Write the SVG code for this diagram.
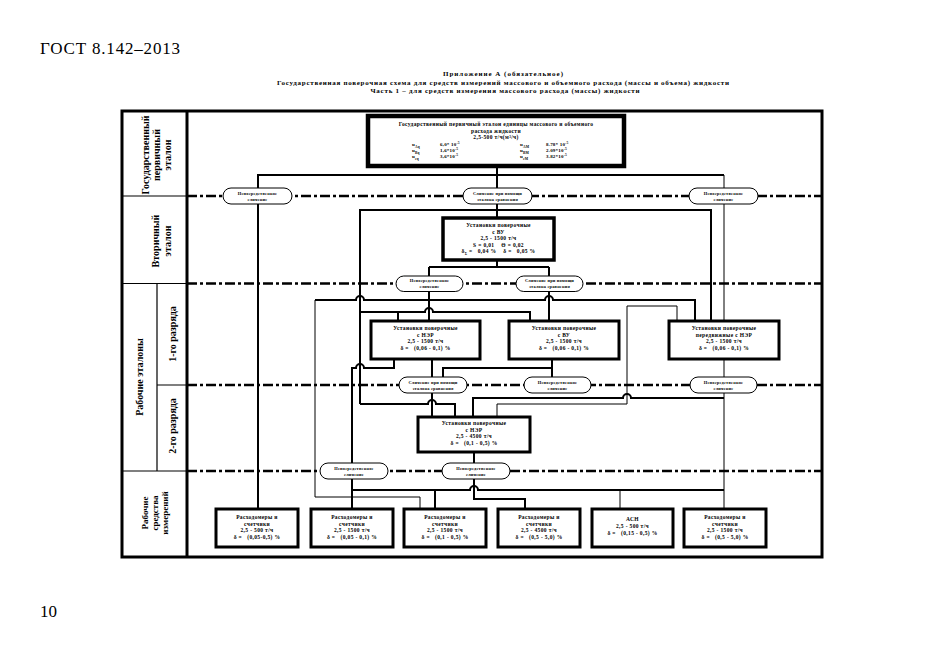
<svg xmlns="http://www.w3.org/2000/svg" width="935" height="661" viewBox="0 0 935 661">
<style>
text{font-family:"Liberation Serif","DejaVu Serif",serif;font-weight:bold;fill:#000}
.pg{font-weight:normal;font-size:17px}
.h{font-size:7px;text-anchor:middle}
.t{font-size:5.5px;text-anchor:middle;letter-spacing:0.35px}
.ts{font-size:5px;letter-spacing:0.2px}
.o{font-size:4.4px;text-anchor:middle;letter-spacing:0.2px}
.lab{font-size:10px;text-anchor:middle;dominant-baseline:central}
.frame{fill:none;stroke:#000;stroke-width:3}
.sep{fill:none;stroke:#000;stroke-width:1.2}
.dash{fill:none;stroke:#000;stroke-width:2.5;stroke-dasharray:10 3 3 3}
.c{fill:none;stroke:#000;stroke-width:2}
.ct{fill:none;stroke:#000;stroke-width:1}
.box{fill:#fff;stroke:#000;stroke-width:3}
.box4{fill:#fff;stroke:#000;stroke-width:4.5}
.ov{fill:#fff;stroke:#000;stroke-width:1}
</style>
<rect width="935" height="661" fill="#fff"/>

<text class="pg" x="40" y="54" textLength="140" lengthAdjust="spacing">ГОСТ 8.142–2013</text>
<text class="pg" x="40" y="617">10</text>

<g id="header">
<text class="h" x="503" y="76" textLength="120" lengthAdjust="spacing">Приложение А (обязательное)</text>
<text class="h" x="503" y="85" textLength="452" lengthAdjust="spacing">Государственная поверочная схема для средств измерений массового и объемного расхода (массы и объема) жидкости</text>
<text class="h" x="505" y="93" textLength="269" lengthAdjust="spacing">Часть 1 – для средств измерения массового расхода (массы) жидкости</text>
</g>

<g id="frame">
<rect class="frame" x="122" y="111" width="700" height="446"/>
<line class="frame" x1="187" y1="111" x2="187" y2="557"/>
<path class="sep" d="M122 196H187M122 283.5H187M122 471H187M157 283.5V471M157 385H187"/>
<path class="dash" d="M187 196H822M187 283.5H822M187 385H822M187 471H822"/>
</g>

<g id="labels">
<g transform="translate(156 155) rotate(-90)">
<text class="lab" x="0" y="-11">Государственный</text>
<text class="lab" x="0" y="0">первичный</text>
<text class="lab" x="0" y="11">эталон</text>
</g>
<g transform="translate(161 241) rotate(-90)">
<text class="lab" x="0" y="-6">Вторичный</text>
<text class="lab" x="0" y="6">эталон</text>
</g>
<g transform="translate(139 377) rotate(-90)">
<text class="lab" x="0" y="0">Рабочие эталоны</text>
</g>
<g transform="translate(172 334) rotate(-90)">
<text class="lab" x="0" y="0">1-го разряда</text>
</g>
<g transform="translate(172 426) rotate(-90)">
<text class="lab" x="0" y="0">2-го разряда</text>
</g>
<g transform="translate(155 513) rotate(-90)">
<text class="lab" x="0" y="-10" style="font-size:9px">Рабочие</text>
<text class="lab" x="0" y="0" style="font-size:9px">средства</text>
<text class="lab" x="0" y="10" style="font-size:9px">измерений</text>
</g>
</g>

<g id="connectors">
<path class="c" d="M258 509V175H724"/>
<path class="ct" d="M724 175V321M724 359V509"/>
<path class="c" d="M497 166V218"/>
<path class="c" d="M360 404V210H711V321"/>
<path class="c" d="M497 260V267M429 267H549M429 267V321M549 267V321"/>
<path class="c" d="M695 321V300H553a4 4 0 0 0 -8 0H364a4 4 0 0 0 -8 0H315"/>
<path class="ct" d="M315 300V497H420V509"/>
<path class="c" d="M360 312H425a4 4 0 0 1 8 0H530V321M398 312V321"/>
<path class="ct" d="M677 321V306H627V404H497V417"/>
<path class="c" d="M724 398H631a4 4 0 0 0 -8 0H473V417"/>
<path class="c" d="M552 359V378M552 368H443V378"/>
<path class="c" d="M432 359V417"/>
<path class="c" d="M394 359V368H364a4 4 0 0 0 -8 0H352V509"/>
<path class="c" d="M360 404H428a4 4 0 0 1 8 0H455V417"/>
<path class="c" d="M352 490H470a4 4 0 0 1 8 0H724M435 490V509"/>
<path class="ct" d="M620 490V509"/>
<path class="c" d="M474 452V499H525V509"/>
</g>

<g id="n-primary">
<rect class="box4" x="368" y="116" width="256" height="50"/>
<text class="t" x="496" y="126">Государственный первичный эталон единицы массового и объемного</text>
<text class="t" x="496" y="132.5">расхода жидкости</text>
<text class="t" x="496" y="139">2,5-500 т/ч(м³/ч)</text>
<text class="ts" x="412" y="145.5">u<tspan baseline-shift="sub" font-size="3.5px">Aq</tspan></text>
<text class="ts" x="440" y="145.5">6,0* 10<tspan baseline-shift="super" font-size="3.5px">-5</tspan></text>
<text class="ts" x="412" y="151.5">u<tspan baseline-shift="sub" font-size="3.5px">Bq</tspan></text>
<text class="ts" x="440" y="151.5">1,6*10<tspan baseline-shift="super" font-size="3.5px">-5</tspan></text>
<text class="ts" x="412" y="157.5">u<tspan baseline-shift="sub" font-size="3.5px">cq</tspan></text>
<text class="ts" x="440" y="157.5">3,6*10<tspan baseline-shift="super" font-size="3.5px">-5</tspan></text>
<text class="ts" x="520" y="145.5">u<tspan baseline-shift="sub" font-size="3.5px">AM</tspan></text>
<text class="ts" x="546" y="145.5">8.78* 10<tspan baseline-shift="super" font-size="3.5px">-5</tspan></text>
<text class="ts" x="520" y="151.5">u<tspan baseline-shift="sub" font-size="3.5px">BM</tspan></text>
<text class="ts" x="546" y="151.5">2.09*10<tspan baseline-shift="super" font-size="3.5px">-5</tspan></text>
<text class="ts" x="520" y="157.5">u<tspan baseline-shift="sub" font-size="3.5px">cM</tspan></text>
<text class="ts" x="546" y="157.5">3.82*10<tspan baseline-shift="super" font-size="3.5px">-5</tspan></text>
</g>

<g id="o1-left"><rect class="ov" x="223" y="188" width="69" height="16" rx="8"/>
<text class="o" x="257.5" y="194.5">Непосредственное</text><text class="o" x="257.5" y="200.5">сличение</text></g>
<g id="o1-center"><rect class="ov" x="463" y="188" width="69" height="16" rx="8"/>
<text class="o" x="497.5" y="194.5">Сличение при помощи</text><text class="o" x="497.5" y="200.5">эталона сравнения</text></g>
<g id="o1-right"><rect class="ov" x="689" y="188" width="69" height="16" rx="8"/>
<text class="o" x="723.5" y="194.5">Непосредственное</text><text class="o" x="723.5" y="200.5">сличение</text></g>

<g id="n-vu">
<rect class="box" x="443" y="218" width="111" height="42" style="stroke-width:3.5"/>
<text class="t" x="498.5" y="227">Установки поверочные</text>
<text class="t" x="498.5" y="233.5">с ВУ</text>
<text class="t" x="498.5" y="240">2,5 - 1500 т/ч</text>
<text class="t" x="498.5" y="246.5" xml:space="preserve">S = 0,01    Θ = 0,02</text>
<text class="t" x="498.5" y="253" xml:space="preserve">δ<tspan baseline-shift="sub" font-size="3.5px">Σ</tspan> =   0,04 %    δ =   0,05 %</text>
</g>

<g id="o2-left"><rect class="ov" x="396" y="276" width="67" height="15.5" rx="7.75"/>
<text class="o" x="429.5" y="282.3">Непосредственное</text><text class="o" x="429.5" y="288.3">сличение</text></g>
<g id="o2-right"><rect class="ov" x="516" y="276" width="67" height="15.5" rx="7.75"/>
<text class="o" x="549.5" y="282.3">Сличение при помощи</text><text class="o" x="549.5" y="288.3">эталона сравнения</text></g>

<g id="n-ner1">
<rect class="box" x="371" y="321" width="109" height="38"/>
<text class="t" x="425.5" y="330">Установки поверочные</text>
<text class="t" x="425.5" y="336.5">с НЭР</text>
<text class="t" x="425.5" y="343">2,5 - 1500 т/ч</text>
<text class="t" x="425.5" y="349.5" xml:space="preserve">δ =   (0,06 - 0,1) %</text>
</g>
<g id="n-vu1">
<rect class="box" x="509" y="321" width="110" height="38"/>
<text class="t" x="564" y="330">Установки поверочные</text>
<text class="t" x="564" y="336.5">с ВУ</text>
<text class="t" x="564" y="343">2,5 - 1500 т/ч</text>
<text class="t" x="564" y="349.5" xml:space="preserve">δ =   (0,06 - 0,1) %</text>
</g>
<g id="n-mobile">
<rect class="box" x="669" y="321" width="110" height="38"/>
<text class="t" x="724" y="330">Установки поверочные</text>
<text class="t" x="724" y="336.5">передвижные с НЭР</text>
<text class="t" x="724" y="343">2,5 - 1500 т/ч</text>
<text class="t" x="724" y="349.5" xml:space="preserve">δ =   (0,06 - 0,1) %</text>
</g>

<g id="o3-left"><rect class="ov" x="399" y="377" width="68" height="16" rx="8"/>
<text class="o" x="433" y="383.5">Сличение при помощи</text><text class="o" x="433" y="389.5">эталона сравнения</text></g>
<g id="o3-center"><rect class="ov" x="524" y="377" width="67" height="16" rx="8"/>
<text class="o" x="557.5" y="383.5">Непосредственное</text><text class="o" x="557.5" y="389.5">сличение</text></g>
<g id="o3-right"><rect class="ov" x="690" y="377" width="67" height="16" rx="8"/>
<text class="o" x="723.5" y="383.5">Непосредственное</text><text class="o" x="723.5" y="389.5">сличение</text></g>

<g id="n-ner2">
<rect class="box" x="418" y="417" width="112" height="35"/>
<text class="t" x="474" y="425">Установки поверочные</text>
<text class="t" x="474" y="431.5">с НЭР</text>
<text class="t" x="474" y="438">2,5 - 4500 т/ч</text>
<text class="t" x="474" y="444.5" xml:space="preserve">δ =   (0,1 - 0,5) %</text>
</g>

<g id="o4-left"><rect class="ov" x="320" y="463" width="68" height="16" rx="8"/>
<text class="o" x="354" y="469.5">Непосредственное</text><text class="o" x="354" y="475.5">сличение</text></g>
<g id="o4-center"><rect class="ov" x="442" y="463" width="68" height="16" rx="8"/>
<text class="o" x="476" y="469.5">Непосредственное</text><text class="o" x="476" y="475.5">сличение</text></g>

<g id="m1">
<rect class="box" x="216" y="509" width="82" height="38"/>
<text class="t" x="257" y="519">Расходомеры и</text>
<text class="t" x="257" y="525.5">счетчики</text>
<text class="t" x="257" y="532">2,5 - 500 т/ч</text>
<text class="t" x="257" y="538.5" xml:space="preserve">δ =   (0,05-0,5) %</text>
</g>
<g id="m2">
<rect class="box" x="311" y="509" width="82" height="38"/>
<text class="t" x="352" y="519">Расходомеры и</text>
<text class="t" x="352" y="525.5">счетчики</text>
<text class="t" x="352" y="532">2,5 - 1500 т/ч</text>
<text class="t" x="352" y="538.5" xml:space="preserve">δ =   (0,05 - 0,1) %</text>
</g>
<g id="m3">
<rect class="box" x="404" y="509" width="82" height="38"/>
<text class="t" x="445" y="519">Расходомеры и</text>
<text class="t" x="445" y="525.5">счетчики</text>
<text class="t" x="445" y="532">2,5 - 1500 т/ч</text>
<text class="t" x="445" y="538.5" xml:space="preserve">δ =   (0,1 - 0,5) %</text>
</g>
<g id="m4">
<rect class="box" x="498" y="509" width="82" height="38"/>
<text class="t" x="539" y="519">Расходомеры и</text>
<text class="t" x="539" y="525.5">счетчики</text>
<text class="t" x="539" y="532">2,5 - 4500 т/ч</text>
<text class="t" x="539" y="538.5" xml:space="preserve">δ =   (0,5 - 5,0) %</text>
</g>
<g id="m5">
<rect class="box" x="592" y="509" width="81" height="38"/>
<text class="t" x="632.5" y="521">АСН</text>
<text class="t" x="632.5" y="528">2,5 - 500 т/ч</text>
<text class="t" x="632.5" y="535" xml:space="preserve">δ =   (0,15 - 0,5) %</text>
</g>
<g id="m6">
<rect class="box" x="684" y="509" width="82" height="38"/>
<text class="t" x="725" y="519">Расходомеры и</text>
<text class="t" x="725" y="525.5">счетчики</text>
<text class="t" x="725" y="532">2,5 - 1500 т/ч</text>
<text class="t" x="725" y="538.5" xml:space="preserve">δ =   (0,5 - 5,0) %</text>
</g>
</svg>
